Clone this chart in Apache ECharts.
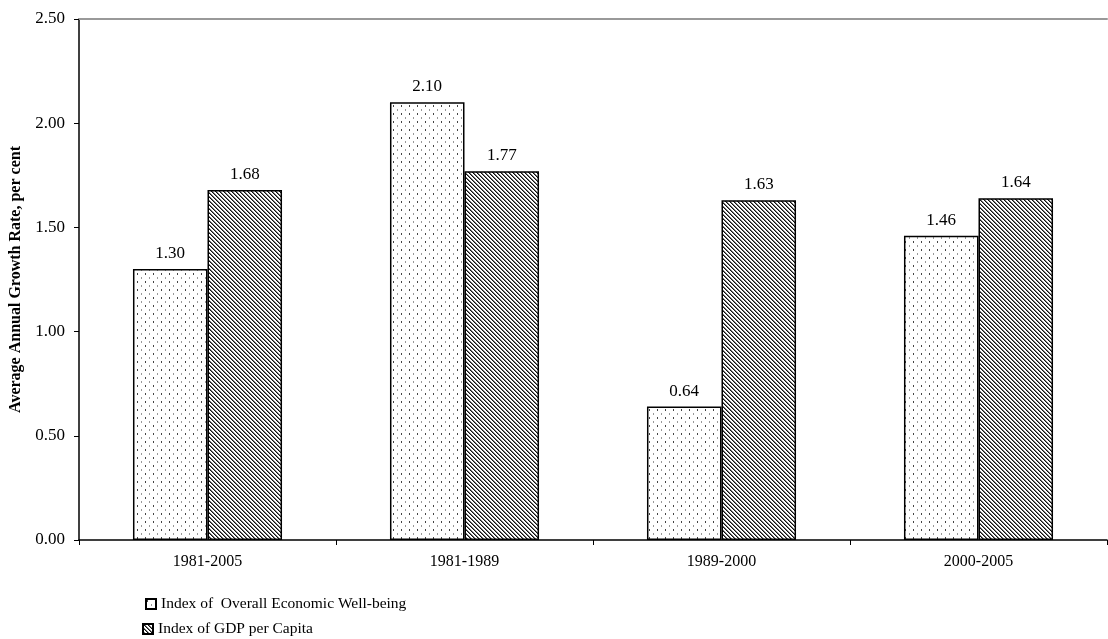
<!DOCTYPE html>
<html>
<head>
<meta charset="utf-8">
<script src="https://cdn.jsdelivr.net/npm/echarts@6/dist/echarts.min.js"></script>
<style>
  html, body { margin: 0; padding: 0; background: #fff; }
  #chart { width: 1108px; height: 639px; }
</style>
</head>
<body>
<div id="chart"></div>
<script>
const periods = ["1981-2005", "1981-1989", "1989-2000", "2000-2005"];
const wellBeing = [1.30, 2.10, 0.64, 1.46];
const gdpPerCapita = [1.68, 1.77, 1.63, 1.64];
const yTicks = [0, 0.5, 1.0, 1.5, 2.0, 2.5];
const seriesNames = ["Index of  Overall Economic Well-being", "Index of GDP per Capita"];

const font = "'Liberation Serif', 'Times New Roman', serif";

// dotted fill like the excel pattern
function dotPattern() {
  const c = document.createElement("canvas");
  c.width = 8;
  c.height = 8;
  const ctx = c.getContext("2d");
  ctx.fillStyle = "#fff";
  ctx.fillRect(0, 0, 8, 8);
  ctx.fillStyle = "#444";
  ctx.fillRect(1, 1, 1, 2);
  ctx.fillStyle = "#999";
  ctx.fillRect(5, 5, 1, 2);
  return c;
}

// dense diagonal hatch (top-left to bottom-right)
function hatchPattern() {
  const c = document.createElement("canvas");
  c.width = 4;
  c.height = 4;
  const ctx = c.getContext("2d");
  ctx.fillStyle = "#fff";
  ctx.fillRect(0, 0, 4, 4);
  for (let i = 0; i < 4; i++) {
    ctx.fillStyle = "#111";
    ctx.fillRect(i, i, 1, 1);
    ctx.fillStyle = "#777";
    ctx.fillRect((i + 1) % 4, i, 1, 1);
  }
  return c;
}

const chart = echarts.init(document.getElementById("chart"));

const labelStyle = {
  show: true,
  position: "top",
  distance: 7,
  formatter: (p) => p.value.toFixed(2),
  fontFamily: font,
  fontSize: 17,
  color: "#000",
};

const legendBase = {
  orient: "vertical",
  itemWidth: 10,
  itemHeight: 10,
  icon: "rect",
  textStyle: { fontFamily: font, fontSize: 15.5, color: "#000" },
};

chart.setOption({
  animation: false,
  backgroundColor: "#fff",
  textStyle: { fontFamily: font },
  grid: { left: 79, right: 1, top: 19, bottom: 99, containLabel: false, outerBoundsMode: "none" },
  legend: [
    Object.assign({}, legendBase, { left: 140, top: 591, itemGap: 2, data: [seriesNames[0]] }),
    Object.assign({}, legendBase, { left: 137, top: 616, itemGap: 2, data: [seriesNames[1]] }),
  ],
  xAxis: [
    {
      type: "category",
      data: periods,
      axisLine: { lineStyle: { color: "#000", width: 1.5 } },
      axisTick: { show: true, length: 5, lineStyle: { color: "#000" } },
      axisLabel: { fontFamily: font, fontSize: 16, color: "#000", margin: 14 },
    },
    {
      type: "category",
      data: periods,
      position: "top",
      axisLine: { lineStyle: { color: "#999", width: 2 } },
      axisTick: { show: false },
      axisLabel: { show: false },
    },
  ],
  yAxis: {
    type: "value",
    min: yTicks[0],
    max: yTicks[yTicks.length - 1],
    interval: 0.5,
    name: "Average Annual Growth Rate, per cent",
    nameLocation: "middle",
    nameGap: 54,
    nameTextStyle: { fontFamily: font, fontSize: 16, fontWeight: "bold", color: "#000" },
    axisLine: { show: true, lineStyle: { color: "#000", width: 1.5 } },
    axisTick: { show: true, length: 5, lineStyle: { color: "#000" } },
    axisLabel: {
      fontFamily: font,
      fontSize: 17,
      color: "#000",
      margin: 14,
      formatter: (v) => v.toFixed(2),
    },
    splitLine: { show: false },
  },
  series: [
    {
      name: seriesNames[0],
      type: "bar",
      data: wellBeing,
      barGap: "0%",
      barCategoryGap: "42%",
      itemStyle: {
        color: { image: dotPattern(), repeat: "repeat" },
        borderColor: "#000",
        borderWidth: 1.5,
      },
      label: labelStyle,
    },
    {
      name: seriesNames[1],
      type: "bar",
      data: gdpPerCapita,
      barGap: "0%",
      barCategoryGap: "42%",
      itemStyle: {
        color: { image: hatchPattern(), repeat: "repeat" },
        borderColor: "#000",
        borderWidth: 1.5,
      },
      label: labelStyle,
    },
  ],
});
</script>
</body>
</html>
